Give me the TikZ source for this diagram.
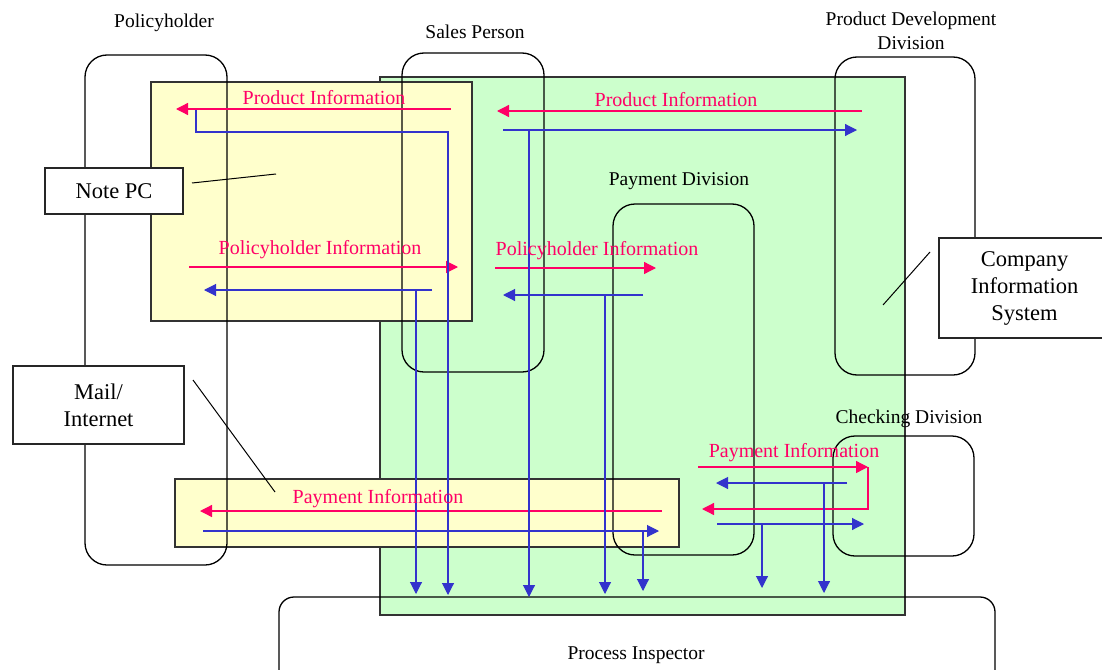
\documentclass[tikz,border=0pt]{standalone}
\usepackage{fontspec}
\setmainfont{Liberation Serif}
\usetikzlibrary{arrows.meta}
\definecolor{pinkc}{HTML}{FF0066}
\definecolor{bluec}{HTML}{3333CC}
\definecolor{yel}{HTML}{FFFFCC}
\definecolor{grn}{HTML}{CCFFCC}
\begin{document}
\begin{tikzpicture}[x=1pt,y=-1pt,
 lane/.style={draw=black, line width=1.3pt, rounded corners=22pt, inner sep=0pt, outer sep=0pt},
 panel/.style={draw=black!80, line width=1.3pt, inner sep=0pt, outer sep=0pt},
 lbl/.style={font=\fontsize{19.5}{23}\selectfont, inner sep=0pt, align=center},
 pinklab/.style={lbl, text=pinkc, font=\fontsize{20}{23}\selectfont},
 boxnode/.style={draw=black!85, fill=white, line width=1.2pt, font=\fontsize{22.5}{27}\selectfont, align=center, inner sep=0pt, outer sep=0pt},
 parr/.style={draw=pinkc, line width=1.3pt, -{Triangle[length=12pt,width=12pt]}},
 barr/.style={draw=bluec, line width=1.1pt, -{Triangle[length=12pt,width=12pt]}},
 pointer/.style={draw=black, line width=1pt}
]
\clip (0,0) rectangle (1102,669);
\fill[white] (0,0) rectangle (1102,669);

% panels
\node[panel, fill=grn, minimum width=525pt, minimum height=538pt] (green) at (642.5,346) {};
\node[panel, fill=yel, minimum width=321pt, minimum height=239pt] (yel1) at (311.5,201.5) {};
\node[panel, fill=yel, minimum width=504pt, minimum height=68pt] (yel2) at (427,513) {};

% lanes
\node[lane, minimum width=142pt, minimum height=510pt] (ph) at (156,310) {};
\node[lane, minimum width=142pt, minimum height=319pt] (sp) at (473,212.5) {};
\node[lane, minimum width=140pt, minimum height=318pt] (pd) at (905,216) {};
\node[lane, minimum width=141pt, minimum height=351pt] (pay) at (683.5,379.5) {};
\node[lane, minimum width=141pt, minimum height=120pt] (chk) at (903.5,496) {};
\node[lane, rounded corners=15pt, minimum width=716pt, minimum height=93pt] (pi) at (637,643.5) {};

% lane titles
\node[lbl] (tph) at (164,23) {Policyholder};
\node[lbl] (tsp) at (475,32) {Sales Person};
\node[lbl, font=\fontsize{19.5}{24}\selectfont] (tpd) at (911,31) {Product Development\\Division};
\node[lbl] (tpay) at (679,181) {Payment Division};
\node[lbl] (tchk) at (909,419) {Checking Division};
\node[lbl] (tpi) at (636,655) {Process Inspector};

% coordinates for connectors
\coordinate (a1s) at (451,109); \coordinate (a1e) at (176,109);
\coordinate (a2s) at (862,111); \coordinate (a2e) at (497,111);
\coordinate (a3s) at (189,267); \coordinate (a3e) at (458,267);
\coordinate (a4s) at (495,268); \coordinate (a4e) at (656,268);
\coordinate (a5s) at (698,467); \coordinate (a5e) at (868,467);
\coordinate (a5r) at (868,509); \coordinate (a5f) at (702,509);
\coordinate (a6s) at (662,511); \coordinate (a6e) at (200,511);

% pink arrows
\draw[parr] (a1s) -- (a1e);
\draw[parr] (a2s) -- (a2e);
\draw[parr] (a3s) -- (a3e);
\draw[parr] (a4s) -- (a4e);
\draw[parr] (a5s) -- (a5e);
\draw[parr] (a5e) -- (a5r) -- (a5f);
\draw[parr] (a6s) -- (a6e);

% blue arrows
\coordinate (b1s) at (196,110); \coordinate (b1k) at (196,132); \coordinate (b1m) at (448,132); \coordinate (b1e) at (448,595);
\draw[barr] (b1s) -- (b1k) -- (b1m) -- (b1e);
\coordinate (b2s) at (432,290); \coordinate (b2e) at (204,290); \coordinate (b2b) at (416,290); \coordinate (b2d) at (416,594);
\draw[barr] (b2s) -- (b2e);
\draw[barr] (b2b) -- (b2d);
\coordinate (b3s) at (503,130); \coordinate (b3e) at (857,130); \coordinate (b3b) at (529,130); \coordinate (b3d) at (529,597);
\draw[barr] (b3s) -- (b3e);
\draw[barr] (b3b) -- (b3d);
\coordinate (b4s) at (643,295); \coordinate (b4e) at (503,295); \coordinate (b4b) at (605,296); \coordinate (b4d) at (605,594);
\draw[barr] (b4s) -- (b4e);
\draw[barr] (b4b) -- (b4d);
\coordinate (b5s) at (203,531); \coordinate (b5e) at (659,531); \coordinate (b5b) at (643,531); \coordinate (b5d) at (643,591);
\draw[barr] (b5s) -- (b5e);
\draw[barr] (b5b) -- (b5d);
\coordinate (b6s) at (847,483); \coordinate (b6e) at (716,483); \coordinate (b6b) at (824,483); \coordinate (b6d) at (824,593);
\draw[barr] (b6s) -- (b6e);
\draw[barr] (b6b) -- (b6d);
\coordinate (b7s) at (717,524); \coordinate (b7e) at (864,524); \coordinate (b7b) at (762,524); \coordinate (b7d) at (762,588);
\draw[barr] (b7s) -- (b7e);
\draw[barr] (b7b) -- (b7d);

% pink labels
\node[pinklab] (l1) at (324,98) {Product Information};
\node[pinklab] (l2) at (676,100) {Product Information};
\node[pinklab] (l3) at (320,250) {Policyholder Information};
\node[pinklab] (l4) at (597,251) {Policyholder Information};
\node[pinklab] (l5) at (794,453) {Payment Information};
\node[pinklab] (l6) at (378,499) {Payment Information};

% white callout boxes
\node[boxnode, minimum width=138pt, minimum height=46pt] (note) at (114,191) {Note PC};
\node[boxnode, minimum width=171pt, minimum height=78pt] (mail) at (98.5,405) {Mail/\\Internet};
\node[boxnode, minimum width=171pt, minimum height=100pt] (cis) at (1024.5,288) {Company\\Information\\System};

\coordinate (p1s) at (192,183); \coordinate (p1e) at (276,174);
\coordinate (p2s) at (193,380); \coordinate (p2e) at (275,492);
\coordinate (p3s) at (930,252); \coordinate (p3e) at (883,305);
\draw[pointer] (p1s) -- (p1e);
\draw[pointer] (p2s) -- (p2e);
\draw[pointer] (p3s) -- (p3e);
\end{tikzpicture}
\end{document}
